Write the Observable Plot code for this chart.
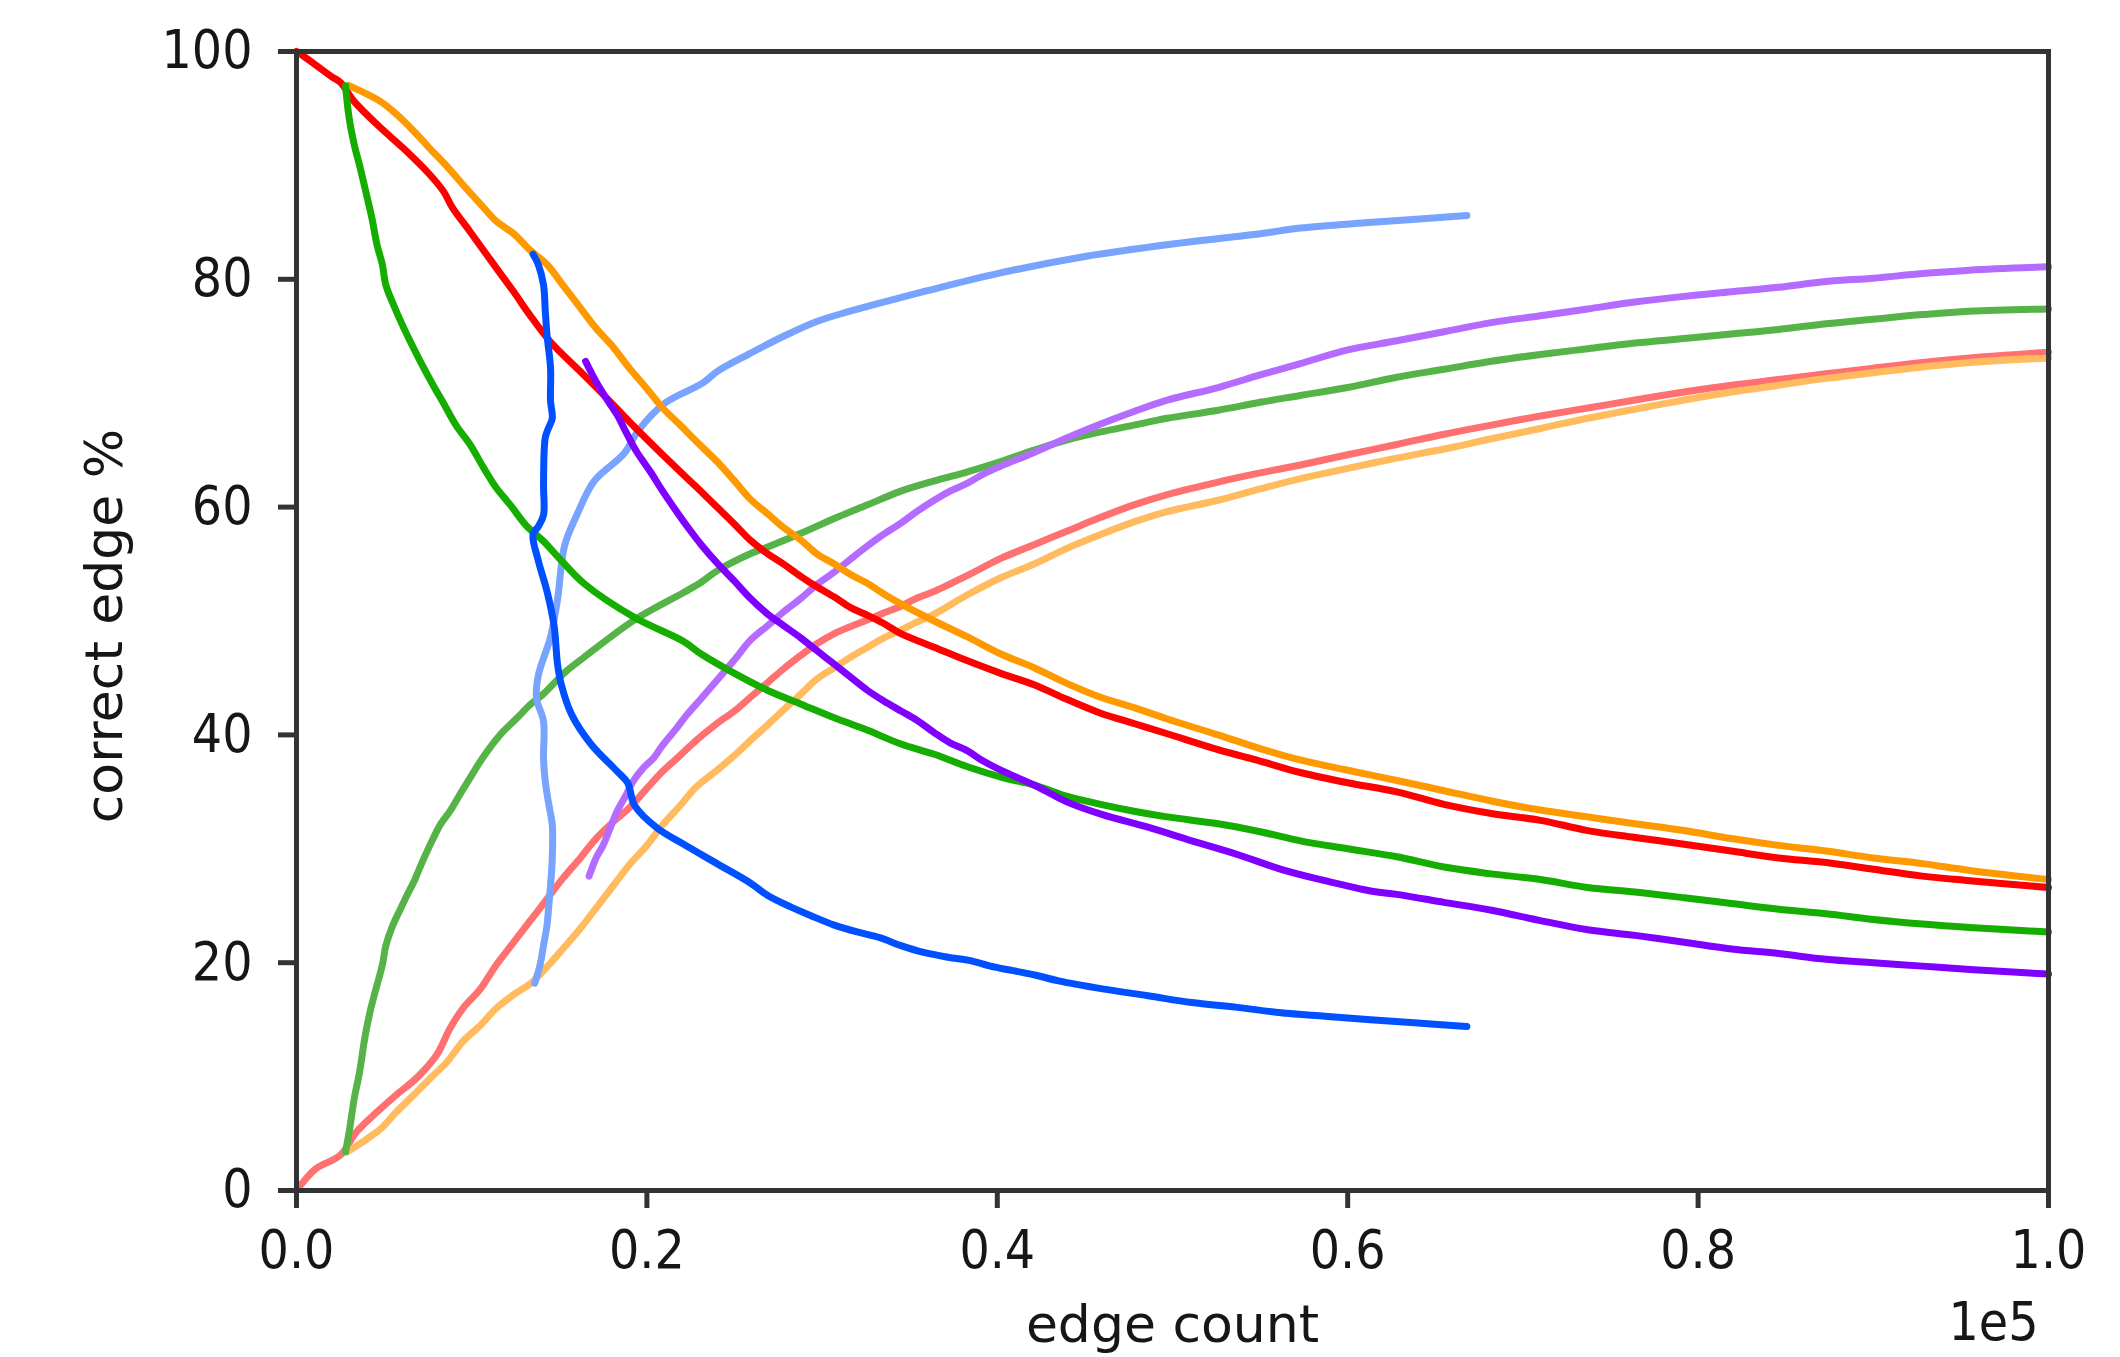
<!DOCTYPE html>
<html><head><meta charset="utf-8">
<script src="https://cdn.jsdelivr.net/npm/d3@7"></script>
<script src="https://cdn.jsdelivr.net/npm/@observablehq/plot@0.6"></script>
<style>
html,body{margin:0;padding:0;background:#fff;}
#chart svg{display:block;}
</style></head><body><div id="chart"></div><script>
// x values in units of 1e5 edges, y values in percent
const xTicks = [0, 0.2, 0.4, 0.6, 0.8, 1.0];
const yTicks = [0, 20, 40, 60, 80, 100];
const xLabel = "edge count";
const yLabel = "correct edge %";
const xOffsetLabel = "1e5";

const redDown = [[0,100],[0.004,99.6],[0.02,97.8],[0.025,97.3],[0.033,95.6],[0.048,93.3],[0.061,91.5],[0.076,89.2],[0.084,87.7],[0.089,86.3],[0.099,84.2],[0.114,81],[0.124,78.9],[0.133,76.9],[0.145,74.5],[0.162,71.9],[0.175,69.9],[0.19,67.5],[0.209,64.6],[0.228,61.8],[0.24,60],[0.25,58.5],[0.259,57.1],[0.269,55.9],[0.278,55],[0.288,53.9],[0.297,53],[0.307,52.1],[0.316,51.2],[0.326,50.5],[0.335,49.8],[0.345,48.9],[0.364,47.7],[0.383,46.5],[0.402,45.4],[0.421,44.4],[0.44,43.1],[0.459,41.9],[0.478,41],[0.497,40.1],[0.526,38.7],[0.55,37.7],[0.573,36.7],[0.6,35.8],[0.628,35],[0.655,33.9],[0.682,33.1],[0.71,32.5],[0.737,31.6],[0.764,31],[0.792,30.4],[0.819,29.8],[0.846,29.2],[0.873,28.8],[0.9,28.2],[0.928,27.6],[0.955,27.2],[1.0,26.6]];
const orangeDown = [[0.03,97],[0.048,95.6],[0.057,94.5],[0.067,93],[0.076,91.5],[0.086,89.9],[0.095,88.3],[0.105,86.6],[0.114,85.1],[0.124,84],[0.133,82.6],[0.143,81.3],[0.152,79.5],[0.162,77.5],[0.171,75.7],[0.181,74],[0.19,72.2],[0.2,70.4],[0.209,68.7],[0.219,67.2],[0.228,65.8],[0.24,64],[0.25,62.3],[0.259,60.7],[0.269,59.4],[0.278,58.2],[0.288,57.1],[0.297,55.9],[0.307,55],[0.316,54.1],[0.326,53.3],[0.335,52.4],[0.345,51.5],[0.364,50],[0.383,48.6],[0.402,47.1],[0.421,45.9],[0.44,44.5],[0.459,43.3],[0.478,42.4],[0.497,41.4],[0.526,40],[0.55,38.8],[0.573,37.8],[0.6,36.9],[0.628,36],[0.655,35.1],[0.682,34.2],[0.71,33.4],[0.737,32.8],[0.764,32.2],[0.792,31.6],[0.819,30.9],[0.846,30.3],[0.873,29.8],[0.9,29.2],[0.928,28.7],[0.955,28.1],[1.0,27.3]];
const greenDown = [[0.028,97],[0.03,94.2],[0.033,91.8],[0.036,90],[0.04,87.4],[0.043,85.4],[0.046,83],[0.049,81.3],[0.051,79.5],[0.055,77.9],[0.061,75.8],[0.067,73.9],[0.072,72.4],[0.078,70.7],[0.084,69.1],[0.091,67.2],[0.099,65.5],[0.107,63.4],[0.114,61.7],[0.122,60.2],[0.131,58.4],[0.141,57],[0.15,55.5],[0.164,53.3],[0.193,50.3],[0.221,48.2],[0.231,47.1],[0.25,45.4],[0.269,43.9],[0.288,42.7],[0.307,41.5],[0.326,40.4],[0.345,39.2],[0.364,38.3],[0.383,37.2],[0.402,36.3],[0.421,35.6],[0.44,34.6],[0.459,33.9],[0.478,33.3],[0.497,32.8],[0.526,32.2],[0.55,31.5],[0.573,30.7],[0.6,30],[0.628,29.3],[0.655,28.4],[0.682,27.8],[0.71,27.3],[0.737,26.6],[0.764,26.2],[0.792,25.7],[0.819,25.2],[0.846,24.7],[0.873,24.3],[0.9,23.8],[0.928,23.4],[0.955,23.1],[1.0,22.7]];
const blueDown = [[0.135,82.2],[0.138,81.3],[0.141,79.5],[0.142,77.2],[0.143,75.1],[0.145,72.2],[0.145,69.3],[0.146,67.8],[0.144,67],[0.142,66.1],[0.141,62],[0.141,59.3],[0.138,58.3],[0.135,57.6],[0.138,55.3],[0.143,52.6],[0.147,49.6],[0.149,46.2],[0.151,44.5],[0.157,41.8],[0.168,39.2],[0.183,36.8],[0.189,35.8],[0.193,33.8],[0.206,31.8],[0.221,30.4],[0.24,28.7],[0.259,27],[0.269,25.9],[0.282,24.9],[0.294,24.1],[0.307,23.3],[0.32,22.7],[0.333,22.2],[0.345,21.5],[0.358,20.9],[0.371,20.5],[0.384,20.2],[0.396,19.7],[0.409,19.3],[0.422,18.9],[0.435,18.4],[0.46,17.7],[0.486,17.1],[0.511,16.5],[0.536,16.1],[0.562,15.6],[0.587,15.3],[0.613,15],[0.64,14.7],[0.668,14.4]];
const purpleDown = [[0.165,72.8],[0.171,71],[0.177,69.5],[0.183,68.1],[0.188,66.6],[0.194,64.9],[0.202,63.1],[0.209,61.4],[0.217,59.6],[0.224,58.1],[0.231,56.7],[0.24,55.1],[0.25,53.5],[0.259,52],[0.269,50.6],[0.278,49.6],[0.288,48.5],[0.297,47.4],[0.307,46.2],[0.316,45.1],[0.326,43.9],[0.335,43],[0.345,42.1],[0.354,41.3],[0.364,40.2],[0.373,39.3],[0.383,38.6],[0.392,37.7],[0.402,36.9],[0.421,35.6],[0.44,34.1],[0.46,33],[0.486,31.9],[0.511,30.7],[0.537,29.5],[0.562,28.2],[0.587,27.2],[0.613,26.3],[0.628,26],[0.655,25.3],[0.682,24.6],[0.71,23.7],[0.737,22.9],[0.764,22.4],[0.792,21.8],[0.819,21.2],[0.846,20.8],[0.873,20.3],[0.9,20],[0.928,19.7],[0.955,19.4],[1.0,19]];

const redUp = [[0,0],[0.002,0.4],[0.011,1.9],[0.025,3.1],[0.034,5.1],[0.046,6.9],[0.057,8.4],[0.068,9.8],[0.08,11.9],[0.0875,14.2],[0.095,16],[0.105,17.7],[0.114,19.8],[0.124,21.8],[0.133,23.6],[0.143,25.6],[0.152,27.4],[0.162,29.2],[0.171,30.9],[0.181,32.4],[0.19,33.6],[0.2,35.3],[0.209,36.8],[0.219,38.2],[0.228,39.5],[0.24,41],[0.25,42.1],[0.259,43.3],[0.269,44.6],[0.278,45.8],[0.288,47],[0.297,48],[0.307,48.9],[0.316,49.5],[0.326,50.1],[0.335,50.7],[0.345,51.3],[0.354,52],[0.364,52.6],[0.383,54],[0.402,55.5],[0.421,56.7],[0.44,57.9],[0.459,59.1],[0.478,60.2],[0.497,61.1],[0.526,62.2],[0.55,63],[0.573,63.7],[0.6,64.6],[0.628,65.5],[0.655,66.4],[0.682,67.2],[0.71,68],[0.737,68.7],[0.764,69.4],[0.792,70.1],[0.819,70.7],[0.846,71.2],[0.873,71.7],[0.9,72.2],[0.928,72.7],[0.955,73.1],[1.0,73.6]];
const orangeUp = [[0.029,3.4],[0.038,4.3],[0.048,5.4],[0.057,6.9],[0.067,8.4],[0.076,9.8],[0.086,11.3],[0.095,13.1],[0.105,14.5],[0.114,16],[0.124,17.2],[0.133,18.1],[0.141,19.3],[0.152,21.2],[0.162,23],[0.171,24.8],[0.181,26.8],[0.19,28.6],[0.2,30.3],[0.209,32.1],[0.219,33.8],[0.228,35.4],[0.24,36.9],[0.25,38.2],[0.259,39.5],[0.269,40.9],[0.278,42.2],[0.288,43.6],[0.297,44.9],[0.307,45.9],[0.316,46.8],[0.326,47.7],[0.335,48.5],[0.345,49.2],[0.354,49.9],[0.364,50.6],[0.383,52.3],[0.402,53.8],[0.421,55],[0.44,56.4],[0.459,57.6],[0.478,58.7],[0.497,59.6],[0.526,60.6],[0.55,61.6],[0.573,62.5],[0.6,63.4],[0.628,64.3],[0.655,65.1],[0.682,66],[0.71,66.9],[0.737,67.8],[0.764,68.6],[0.792,69.4],[0.819,70.1],[0.846,70.7],[0.873,71.3],[0.9,71.8],[0.928,72.3],[0.955,72.7],[1.0,73.1]];
const greenUp = [[0.028,3.4],[0.03,5.1],[0.033,8.1],[0.036,10.4],[0.039,13.4],[0.042,15.7],[0.045,17.5],[0.049,19.8],[0.051,21.5],[0.055,23.3],[0.059,24.6],[0.063,25.9],[0.067,27.1],[0.07,28.2],[0.074,29.6],[0.078,30.9],[0.082,32.1],[0.088,33.4],[0.093,34.7],[0.099,36.2],[0.105,37.7],[0.11,38.8],[0.118,40.3],[0.126,41.5],[0.133,42.6],[0.141,43.6],[0.148,44.7],[0.154,45.6],[0.164,46.8],[0.193,50.1],[0.221,52.5],[0.231,53.4],[0.24,54.4],[0.259,55.9],[0.269,56.5],[0.288,57.7],[0.307,59],[0.326,60.2],[0.345,61.4],[0.364,62.3],[0.383,63.1],[0.402,64],[0.421,65],[0.44,65.9],[0.459,66.6],[0.478,67.2],[0.497,67.8],[0.526,68.5],[0.55,69.2],[0.573,69.8],[0.6,70.5],[0.628,71.4],[0.655,72.1],[0.682,72.8],[0.71,73.4],[0.737,73.9],[0.764,74.4],[0.792,74.8],[0.819,75.2],[0.846,75.6],[0.873,76.1],[0.9,76.5],[0.928,76.9],[0.955,77.2],[1.0,77.4]];
const blueUp = [[0.136,18.2],[0.139,19.8],[0.141,21.5],[0.143,23.3],[0.144,25],[0.145,26.8],[0.146,29.2],[0.146,32.1],[0.144,33.9],[0.142,35.9],[0.141,37.9],[0.141,41.2],[0.137,43.2],[0.138,45.2],[0.145,48.6],[0.149,51.9],[0.153,56.6],[0.16,59.3],[0.17,62.3],[0.187,64.7],[0.195,66.7],[0.21,69.1],[0.232,70.9],[0.24,71.9],[0.259,73.5],[0.278,75],[0.297,76.3],[0.316,77.2],[0.335,78],[0.36,79],[0.4,80.5],[0.45,82],[0.5,83.1],[0.55,84],[0.573,84.5],[0.614,85],[0.668,85.6]];
const purpleUp = [[0.167,27.6],[0.171,29.2],[0.175,30.3],[0.179,31.8],[0.183,33.3],[0.188,34.7],[0.192,35.9],[0.198,37.1],[0.204,38],[0.209,39.1],[0.217,40.6],[0.223,41.8],[0.231,43.2],[0.24,44.8],[0.25,46.6],[0.259,48.3],[0.269,49.6],[0.278,50.8],[0.288,52],[0.297,53.2],[0.307,54.3],[0.316,55.4],[0.326,56.6],[0.335,57.6],[0.345,58.6],[0.354,59.6],[0.364,60.6],[0.373,61.4],[0.383,62.1],[0.392,62.9],[0.402,63.6],[0.421,64.8],[0.44,66.1],[0.459,67.3],[0.478,68.4],[0.497,69.4],[0.526,70.5],[0.55,71.6],[0.573,72.6],[0.6,73.8],[0.628,74.6],[0.655,75.4],[0.682,76.2],[0.71,76.8],[0.737,77.4],[0.764,78],[0.792,78.5],[0.819,78.9],[0.846,79.3],[0.873,79.8],[0.9,80.1],[0.928,80.5],[0.955,80.8],[1.0,81.1]];

const series = [
  {data: redUp, color: "#ff7070"},
  {data: orangeUp, color: "#ffbb5e"},
  {data: greenUp, color: "#56b347"},
  {data: blueUp, color: "#78a3ff"},
  {data: purpleUp, color: "#b46bff"},
  {data: redDown, color: "#ff0000"},
  {data: orangeDown, color: "#ff9900"},
  {data: greenDown, color: "#14ad00"},
  {data: blueDown, color: "#0050ff"},
  {data: purpleDown, color: "#7f00ff"}
];

const FONT = "'DejaVu Sans Condensed', 'DejaVu Sans', sans-serif";
const LABEL_FONT = "'DejaVu Sans', sans-serif";

const chart = Plot.plot({
  width: 2120, height: 1357,
  marginLeft: 296, marginRight: 72, marginTop: 51, marginBottom: 167,
  x: {domain: [0, 1]},
  y: {domain: [0, 100]},
  style: {fontFamily: FONT, fontSize: "53px", color: "#161616", background: "#fff"},
  marks: [
    ...series.map(s => Plot.line(s.data, {x: d => d[0], y: d => d[1], stroke: s.color, strokeWidth: 7, strokeLinejoin: "round", curve: "catmull-rom"})),
    Plot.frame({stroke: "#333", strokeWidth: 5}),
    Plot.axisX({ticks: xTicks, tickFormat: d3.format(".1f"), tickSize: 18, tickPadding: 22, stroke: "#333", strokeWidth: 5, label: null}),
    Plot.axisY({ticks: yTicks, tickFormat: d3.format("d"), tickSize: 18, tickPadding: 26, stroke: "#333", strokeWidth: 5, label: null}),
    Plot.text([xLabel], {text: d => d, frameAnchor: "bottom", dy: 151, lineAnchor: "bottom", fontFamily: LABEL_FONT, fontSize: 52}),
    Plot.text([yLabel], {text: d => d, frameAnchor: "left", dx: -191, dy: 5, rotate: -90, textAnchor: "middle", lineAnchor: "middle", fontFamily: LABEL_FONT, fontSize: 52}),
    Plot.text([xOffsetLabel], {text: d => d, frameAnchor: "bottom-right", dx: -10, dy: 149, textAnchor: "end", lineAnchor: "bottom"})
  ]
});
d3.select(chart).selectAll("text")
  .filter(function() { return this.textContent === xLabel || this.textContent === yLabel; })
  .style("font-stretch", "normal").style("font-family", LABEL_FONT);
document.getElementById("chart").appendChild(chart);
</script></body></html>
